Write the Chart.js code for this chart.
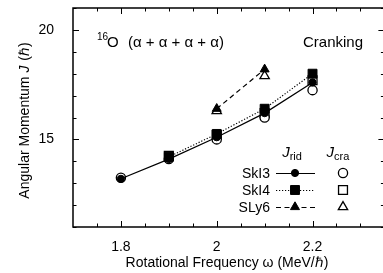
<!DOCTYPE html>
<html><head><meta charset="utf-8">
<script src="https://cdn.jsdelivr.net/npm/chart.js@4/dist/chart.umd.min.js"></script>
<style>html,body{margin:0;padding:0;overflow:hidden;background:#fff;width:383px;height:273px}
#wrap{position:relative;width:392px;height:273px}</style>
</head><body><div id="wrap"><canvas id="c" width="392" height="273"></canvas></div>
<script>
// ---- data ----
const omega = [1.8, 1.9, 2.0, 2.1, 2.2];
const skI3Rid = [13.2, 14.1, 15.1, 16.2, 17.6];
const skI3Cra = [13.25, 14.1, 15.0, 16.0, 17.25];
const skI4Rid = [null, 14.2, 15.25, 16.4, 18.0];
const skI4Cra = [null, 14.25, 15.2, 16.2, 17.7];
const sLy6Rid = [null, null, 16.4, 18.2, null];
const sLy6Cra = [null, null, 16.3, 17.9, null];
const xTickLabels = [1.8, 2.0, 2.2];
const yTickLabels = [15, 20];
const seriesNames = ['SkI3', 'SkI4', 'SLy6'];

const FONT = '"Liberation Sans", Arial, Helvetica, sans-serif';
function pts(arr){ return omega.map((x,i)=>arr[i]==null?null:{x:x,y:arr[i]}).filter(Boolean); }

const styles = [
  {dash:[], shape:'circle', rFill:3.6, rOpen:4.6},
  {dash:[1.2,1.8], shape:'rect', rFill:6.3, rOpen:6.3},
  {dash:[5,3.5], shape:'triangle', rFill:5.2, rOpen:5.4}
];
const ridData = [skI3Rid, skI4Rid, sLy6Rid];
const craData = [skI3Cra, skI4Cra, sLy6Cra];

const datasets = [];
seriesNames.forEach((n,i)=>{
  datasets.push({label:n+' rid', data:pts(ridData[i]), showLine:true, borderColor:'#000', borderWidth:1.2,
    borderDash:styles[i].dash, pointStyle:styles[i].shape, pointRadius:styles[i].rFill,
    pointBackgroundColor:'#000', pointBorderColor:'#000', pointBorderWidth:1, fill:false});
});
seriesNames.forEach((n,i)=>{
  datasets.push({label:n+' cra', data:pts(craData[i]), showLine:false,
    pointStyle:styles[i].shape, pointRadius:styles[i].rOpen,
    pointBackgroundColor:'#fff', pointBorderColor:'#000', pointBorderWidth:1.3});
});

function drawMarker(ctx, shape, x, y, r, filled){
  ctx.save();
  ctx.beginPath();
  if(shape==='circle'){ ctx.arc(x,y,r,0,Math.PI*2); }
  else if(shape==='rect'){ const h=r*Math.SQRT1_2; ctx.rect(x-h,y-h,2*h,2*h); }
  else { ctx.moveTo(x, y-r); ctx.lineTo(x+r*Math.sin(Math.PI/3), y+r*0.5); ctx.lineTo(x-r*Math.sin(Math.PI/3), y+r*0.5); ctx.closePath(); }
  ctx.fillStyle = filled?'#000':'#fff'; ctx.fill();
  ctx.lineWidth = filled?1:1.3; ctx.strokeStyle='#000'; ctx.stroke();
  ctx.restore();
}

function noPad(s){ s.paddingTop=0; s.paddingBottom=0; s.paddingLeft=0; s.paddingRight=0; }

const deco = {
  id:'deco',
  afterDraw(chart){
    const ctx = chart.ctx, a = chart.chartArea, xs = chart.scales.x, ys = chart.scales.y;
    ctx.save();
    ctx.strokeStyle='#000';
    ctx.lineWidth=1.5;
    ctx.strokeRect(a.left, a.top, a.right-a.left, a.bottom-a.top);
    ctx.lineWidth=1;
    ctx.beginPath();
    for(let k=35;k<=47;k++){
      const v=k*0.05; const px=Math.round(xs.getPixelForValue(v))+0.5;
      const major = xTickLabels.some(t=>Math.abs(t-v)<1e-6);
      const L = major?6:3.5;
      ctx.moveTo(px,a.bottom); ctx.lineTo(px,a.bottom-L);
      ctx.moveTo(px,a.top); ctx.lineTo(px,a.top+L);
    }
    for(let v=11; v<=21; v++){
      const py=Math.round(ys.getPixelForValue(v))+0.5;
      const major = yTickLabels.includes(v);
      const L = major?6:3.5;
      ctx.moveTo(a.left,py); ctx.lineTo(a.left+L,py);
      ctx.moveTo(a.right,py); ctx.lineTo(a.right-L,py);
    }
    ctx.stroke();

    ctx.fillStyle='#000';
    ctx.textBaseline='alphabetic';
    // x title
    ctx.font='14px '+FONT; ctx.textAlign='center';
    ctx.fillText('Rotational Frequency \u03c9 (MeV/\u210f)', 227, 267);
    // y title
    ctx.save();
    ctx.translate(29, 121); ctx.rotate(-Math.PI/2);
    const p1='Angular Momentum ', p2='J', p3=' (\u210f)';
    ctx.font='14px '+FONT; const w1=ctx.measureText(p1).width, w3=ctx.measureText(p3).width;
    ctx.font='italic 14px '+FONT; const w2=ctx.measureText(p2).width;
    let sx=-(w1+w2+w3)/2; ctx.textAlign='left';
    ctx.font='14px '+FONT; ctx.fillText(p1,sx,0); sx+=w1;
    ctx.font='italic 14px '+FONT; ctx.fillText(p2,sx,0); sx+=w2+1;
    ctx.font='14px '+FONT; ctx.fillText(p3,sx,0);
    ctx.restore();

    // annotation 16O
    ctx.textAlign='left';
    ctx.font='10px '+FONT; ctx.fillText('16', 97, 40);
    ctx.font='15px '+FONT; ctx.fillText('O', 107, 47);
    ctx.fillText('(\u03b1 + \u03b1 + \u03b1 + \u03b1)', 128, 47);
    ctx.fillText('Cranking', 303, 47);

    // legend headers
    function jsub(cx, sub){
      ctx.font='italic 15px '+FONT; const wj=ctx.measureText('J').width;
      ctx.font='11px '+FONT; const ws=ctx.measureText(sub).width;
      let x0=cx-(wj+ws)/2;
      ctx.font='italic 15px '+FONT; ctx.fillText('J',x0,157);
      ctx.font='11px '+FONT; ctx.fillText(sub,x0+wj,160);
    }
    jsub(292,'rid'); jsub(338,'cra');
    const rows=[173,190,207];
    seriesNames.forEach((n,i)=>{
      const y=rows[i];
      ctx.font='14px '+FONT; ctx.textAlign='right'; ctx.fillText(n, 270, y+5);
      ctx.save(); ctx.setLineDash(styles[i].dash); ctx.lineWidth=1.2;
      ctx.beginPath(); ctx.moveTo(276,y+0.5); ctx.lineTo(315,y+0.5); ctx.stroke(); ctx.restore();
      drawMarker(ctx, styles[i].shape, 295, y, styles[i].rFill, true);
      drawMarker(ctx, styles[i].shape, 343, y, styles[i].rOpen, false);
    });
    ctx.restore();
  }
};

new Chart(document.getElementById('c'), {
  type:'scatter',
  data:{datasets:datasets},
  options:{
    responsive:false, animation:false, devicePixelRatio:1,
    layout:{padding:{left:0,right:6,top:8,bottom:0}},
    plugins:{legend:{display:false}, tooltip:{enabled:false}},
    scales:{
      x:{type:'linear', min:1.7, max:2.35,
        afterFit(s){ s.height=46; noPad(s); },
        afterBuildTicks(s){ s.ticks = xTickLabels.map(v=>({value:v})); },
        grid:{display:false}, border:{display:false},
        ticks:{color:'#000', font:{family:FONT,size:14}, padding:4, maxRotation:0,
          callback:(v)=>String(Math.round(v*10)/10)}},
      y:{type:'linear', min:11, max:21,
        afterFit(s){ s.width=73; noPad(s); },
        afterBuildTicks(s){ s.ticks = yTickLabels.map(v=>({value:v})); },
        grid:{display:false}, border:{display:false},
        ticks:{color:'#000', font:{family:FONT,size:14}, padding:11}}
    }
  },
  plugins:[deco]
});
</script></body></html>
